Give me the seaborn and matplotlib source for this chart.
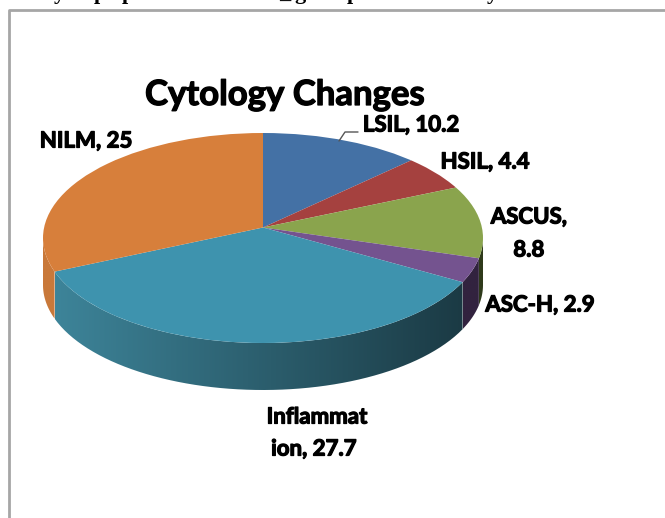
import matplotlib
matplotlib.use("Agg")
import matplotlib.pyplot as plt
import matplotlib.patheffects as pe
import numpy as np
import seaborn as sns
from matplotlib.patches import Circle, PathPatch
from matplotlib.path import Path

# ================= data =================
LABELS = ["LSIL", "HSIL", "ASCUS", "ASC-H", "Inflammation", "NILM"]
VALUES = [10.2, 4.4, 8.8, 2.9, 27.7, 25]
TOP_COLORS = ["#4471a5", "#a5413f", "#8aa44d", "#74538f", "#3e93ae", "#d77f3b"]
SIDE_LEFT = ["#3a6595", "#983c39", "#2f3a1b", "#32233f", "#3d8499", "#c9793a"]
SIDE_RIGHT = ["#3a6595", "#983c39", "#2f3a1b", "#32233f", "#1b3a44", "#c9793a"]
TITLE = "Cytology Changes"
# tails of the line of body text cut off by the top of the picture
CUT_CHARS = ["y", "p", "p", "_", "g", "p", "y"]
CUT_X = [59, 100, 128, 285, 300, 353, 492]

# pie geometry in pixels of the 665x518 picture
W, H = 665, 518
CX, CY, RX, RY = 263, 238, 220, 105
DEPTH = 47 / RY
APEX = 0.1  # tilt: the slices meet above the centre of the ellipse

sns.set_theme(style="white")
plt.rcParams["font.family"] = ["Lato", "DejaVu Sans"]

fig = plt.figure(figsize=(W / 100, H / 100), dpi=100)
ax = fig.add_axes([0, 0, 1, 1])


def rim_angle(a):
    # where the ray from the apex meets the rim, angle from 12 o'clock
    r = np.radians(a)
    return np.degrees(r - np.arcsin(APEX * np.sin(r)))


def add_side(start, end, left, right):
    """Rim of a slice, only the front half of the ellipse shows."""
    a0, a1 = max(rim_angle(start), 90), min(rim_angle(end), 270)
    if a1 <= a0:
        return
    t = np.radians(np.linspace(a0, a1, 60))
    x = np.sin(t)
    y = np.cos(t)
    verts = np.r_[np.c_[x, y], np.c_[x[::-1], y[::-1] - DEPTH]]
    verts = np.vstack([verts, verts[0]])
    patch = PathPatch(Path(verts), fc="none", ec="none", transform=ax.transData)
    ax.add_patch(patch)
    cmap = sns.blend_palette([left, right], as_cmap=True)
    # gradient runs from the left of the pie to the right of it
    grad = np.linspace(0, 1, 256).reshape(1, -1)
    im = ax.imshow(grad, cmap=cmap, aspect="auto", zorder=1, interpolation="bilinear",
                   extent=[x.min(), x.max(), y.min() - DEPTH, y.max()])
    im.set_clip_path(patch)


# side first, then the top of the pie over it
fracs = np.array(VALUES) / sum(VALUES)
edges = np.r_[0, np.cumsum(fracs)] * 360
for i in range(len(VALUES)):
    add_side(edges[i], edges[i + 1], SIDE_LEFT[i], SIDE_RIGHT[i])

# oversized pie around the apex, cut down to the ellipse
wedges, _ = ax.pie(VALUES, colors=TOP_COLORS, startangle=90, counterclock=False, radius=1.3,
                   center=(0, APEX), wedgeprops={"linewidth": 0})
rim = Circle((0, 0), 1, fc="none", ec="none", transform=ax.transData)
ax.add_patch(rim)
for w in wedges:
    w.set_zorder(2)
    w.set_clip_on(True)  # pie turns clipping off for its wedges
    w.set_clip_path(rim)

ax.set_aspect("auto")
ax.set_xlim((0 - CX) / RX, (W - CX) / RX)
ax.set_ylim(-(H - CY) / RY, CY / RY)
ax.axis("off")


def px(x, y):
    return x / W, 1 - y / H


# frame of the embedded chart
fig.add_artist(plt.Line2D([9 / W, 9 / W, 1], [0, 1 - 10 / H, 1 - 10 / H], color="#a6a6a6", lw=2))

for ch, x in zip(CUT_CHARS, CUT_X):
    fig.text(*px(x, -1), ch, fontsize=16, fontweight="bold", family="Liberation Serif",
             ha="center", va="baseline", color="black")

heavy = [pe.withStroke(linewidth=0.9, foreground="black")]
fig.text(*px(285, 95), TITLE, fontsize=25, fontweight="bold", ha="center", va="center",
         color="black", path_effects=heavy)

label_kw = dict(fontsize=16, fontweight="bold", ha="center", va="center", color="black", path_effects=heavy)
fig.text(*px(411, 125), f"{LABELS[0]}, {VALUES[0]}", **label_kw)
fig.text(*px(485, 162), f"{LABELS[1]}, {VALUES[1]}", **label_kw)
fig.text(*px(529, 217), f"{LABELS[2]},", **label_kw)
fig.text(*px(529, 250), f"{VALUES[2]}", **label_kw)
fig.text(*px(540, 305), f"{LABELS[3]}, {VALUES[3]}", **label_kw)
fig.text(*px(317, 417), "Inflammat", **label_kw)
fig.text(*px(314, 449), f"ion, {VALUES[4]}", **label_kw)
fig.text(*px(86, 141), f"{LABELS[5]}, {VALUES[5]}", **label_kw)

# leader line of the LSIL label
fig.add_artist(plt.Line2D([339 / W, 345 / W, 358 / W], [1 - 141 / H, 1 - 132 / H, 1 - 132 / H],
                          color="#555555", lw=1))

fig.savefig("out.png", dpi=100)
